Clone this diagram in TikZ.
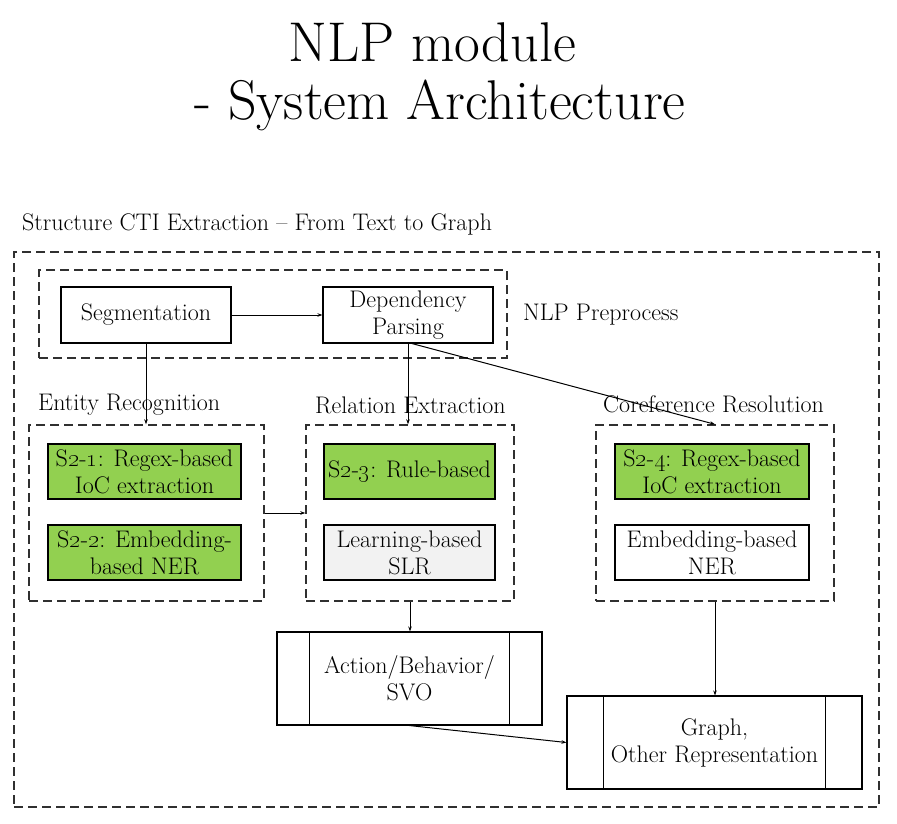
\documentclass[tikz,border=0pt]{standalone}
\usetikzlibrary{arrows.meta}
\definecolor{grn}{HTML}{92D050}
\definecolor{lgray}{HTML}{F2F2F2}
\definecolor{dgray}{HTML}{303030}
\begin{document}
\begin{tikzpicture}[x=1pt,y=-1pt,
  txt/.style={font=\fontsize{24}{27}\selectfont, inner sep=0pt, align=center},
  box/.style={txt, draw=black, line width=1.1pt, minimum height=55pt},
  gbox/.style={box, fill=grn},
  grp/.style={draw=dgray, dashed, dash pattern=on 9pt off 5pt, line width=1.4pt, inner sep=0pt},
  lbl/.style={font=\fontsize{24}{27}\selectfont, inner sep=0pt, anchor=west},
  arr/.style={-{Stealth[length=5pt,width=3.5pt]}, line width=1pt}]
\useasboundingbox (0,0) rectangle (897,824);
% title
\node[font=\fontsize{56}{63}\selectfont, inner sep=0pt] (t1) at (432,42) {NLP module};
\node[font=\fontsize{56}{63}\selectfont, inner sep=0pt] (t2) at (440,105) {- System Architecture};
\node[lbl] (cap) at (22,224) {Structure CTI Extraction -- From Text to Graph};
% groups
\node[grp, minimum width=865pt, minimum height=555pt] (outer) at (446.5,529.5) {};
\node[grp, minimum width=468pt, minimum height=88pt] (pre) at (273,314) {};
\node[grp, minimum width=235pt, minimum height=176pt] (ent) at (146.5,513) {};
\node[grp, minimum width=208pt, minimum height=176pt] (rel) at (410,513) {};
\node[grp, minimum width=238pt, minimum height=176pt] (cor) at (715,513) {};
% labels
\node[lbl] (lpre) at (523,315) {NLP Preprocess};
\node[lbl] (lent) at (38,405) {Entity Recognition};
\node[lbl] (lrel) at (315,405) {Relation Extraction};
\node[lbl] (lcor) at (603,404) {Coreference Resolution};
% preprocess boxes
\node[box, minimum width=170pt, minimum height=56pt] (seg) at (146,315) {Segmentation};
\node[box, minimum width=170pt, minimum height=56pt] (dep) at (408,315) {Dependency\\Parsing};
% entity
\node[gbox, minimum width=193pt] (s21) at (144.5,471.5) {S\oldstylenums{2}-\oldstylenums{1}: Regex-based\\IoC extraction};
\node[gbox, minimum width=193pt] (s22) at (144.5,552.5) {S\oldstylenums{2}-\oldstylenums{2}: Embedding-\\based NER};
% relation
\node[gbox, minimum width=171pt] (s23) at (409.5,471.5) {S\oldstylenums{2}-\oldstylenums{3}: Rule-based};
\node[box, fill=lgray, minimum width=171pt] (slr) at (409.5,552.5) {Learning-based\\SLR};
% coref
\node[gbox, minimum width=194pt] (s24) at (712,471.5) {S\oldstylenums{2}-\oldstylenums{4}: Regex-based\\IoC extraction};
\node[box, fill=white, minimum width=194pt] (emb) at (712,552.5) {Embedding-based\\NER};
% outputs
\node[box, minimum width=265pt, minimum height=93pt] (act) at (409.5,678.5) {Action/Behavior/\\SVO};
\draw[line width=1.1pt] ([xshift=33pt]act.north west) -- ([xshift=33pt]act.south west)
  ([xshift=-33pt]act.north east) -- ([xshift=-33pt]act.south east);
\node[box, minimum width=295pt, minimum height=93pt] (gra) at (714.5,742.5) {Graph,\\Other Representation};
\draw[line width=1.1pt] ([xshift=37pt]gra.north west) -- ([xshift=37pt]gra.south west)
  ([xshift=-37pt]gra.north east) -- ([xshift=-37pt]gra.south east);
% connectors
\draw[arr] (seg.east) -- (dep.west);
\draw[arr] (seg.south) -- (seg.south |- ent.north);
\draw[arr] (dep.south) -- (dep.south |- rel.north);
\draw[arr] ([xshift=4pt]dep.south) -- (cor.north);
\draw[arr] (ent.east) -- (rel.west);
\draw[arr] (rel.south) -- (rel.south |- act.north);
\draw[arr] (cor.south) -- (cor.south |- gra.north);
\draw[arr] (act.south) -- (gra.west);
\end{tikzpicture}
\end{document}
